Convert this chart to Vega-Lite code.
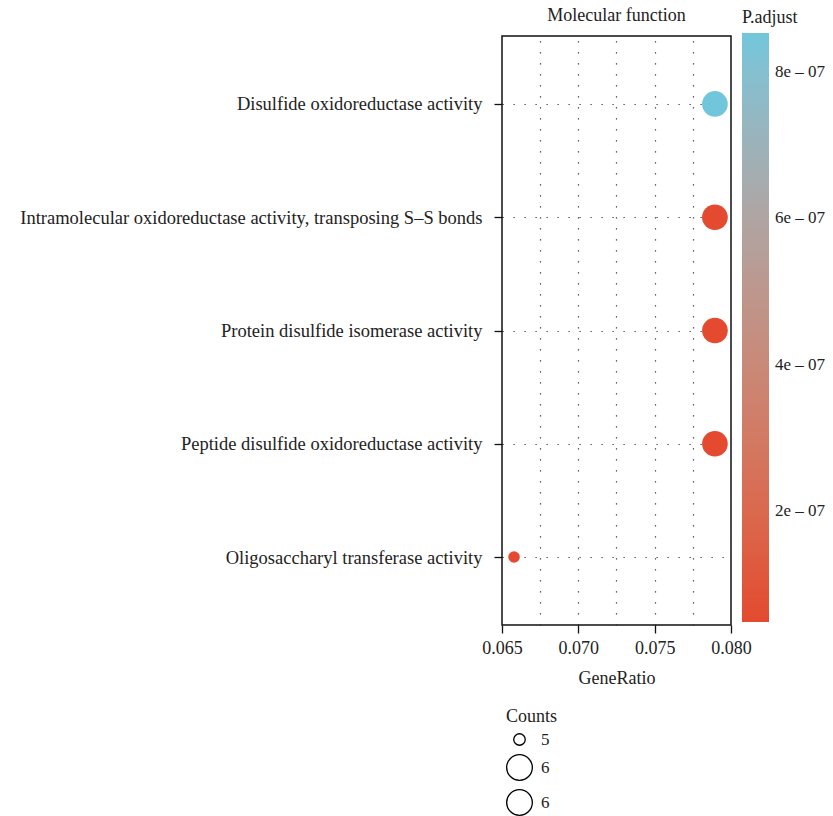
{
  "$schema": "https://vega.github.io/schema/vega-lite/v6.json",
  "width": 229,
  "height": 589,
  "padding": {"left": 19, "top": 7, "right": 5, "bottom": 5},
  "background": "white",
  "title": {"text": "Molecular function", "font": "Liberation Serif", "fontSize": 18, "fontWeight": "normal", "color": "#222", "offset": -16, "anchor": "middle"},
  "data": {"values": [
    {"term": "Disulfide oxidoreductase activity", "GeneRatio": 0.078947, "Counts": 6, "padj": 8.53e-7},
    {"term": "Intramolecular oxidoreductase activity, transposing S–S bonds", "GeneRatio": 0.078947, "Counts": 6, "padj": 4.9e-8},
    {"term": "Protein disulfide isomerase activity", "GeneRatio": 0.078947, "Counts": 6, "padj": 4.9e-8},
    {"term": "Peptide disulfide oxidoreductase activity", "GeneRatio": 0.078947, "Counts": 6, "padj": 4.9e-8},
    {"term": "Oligosaccharyl transferase activity", "GeneRatio": 0.065789, "Counts": 5, "padj": 5.0e-8}
  ]},
  "mark": {"type": "circle", "opacity": 1},
  "encoding": {
    "x": {"field": "GeneRatio", "type": "quantitative",
      "scale": {"domain": [0.065, 0.08], "nice": false, "zero": false},
      "axis": {"title": "GeneRatio", "values": [0.065, 0.0675, 0.07, 0.0725, 0.075, 0.0775, 0.08],
        "labelPadding": 6, "titlePadding": 12, "labelFlush": false,
        "labelExpr": "abs(datum.value*1000 - round(datum.value*200)*5) < 0.01 ? format(datum.value, '.3f') : ''",
        "tickOpacity": {"condition": {"test": "abs(datum.value*1000 - round(datum.value*200)*5) < 0.01", "value": 1}, "value": 0},
        "gridOpacity": {"condition": {"test": "datum.value < 0.066 || datum.value > 0.0795", "value": 0}, "value": 1}
      }},
    "y": {"field": "term", "type": "nominal", "sort": null,
      "scale": {"type": "point", "padding": 0.6},
      "axis": {"title": null, "labelLimit": 0, "labelPadding": 12, "labelFontSize": 18.5}},
    "size": {"field": "Counts", "type": "quantitative",
      "scale": {"domain": [5, 6], "range": [133, 660], "zero": false},
      "legend": {"title": "Counts", "orient": "none", "legendX": 4, "legendY": 672, "values": [5, 6, 6],
        "format": "d", "symbolFillColor": "white", "symbolStrokeColor": "black", "symbolStrokeWidth": 1.3,
        "symbolOpacity": 1, "rowPadding": 4, "labelOffset": 8}},
    "color": {"field": "padj", "type": "quantitative",
      "scale": {"range": ["#E34A2F", "#72C6DC"], "interpolate": "lab", "nice": false, "zero": false},
      "legend": {"title": "P.adjust", "orient": "none", "legendX": 240, "legendY": -27, "gradientLength": 589, "gradientThickness": 27,
        "values": [2e-7, 4e-7, 6e-7, 8e-7],
        "labelExpr": "format(datum.value*1e7, 'd') + 'e – 07'", "gradientStrokeWidth": 0, "titlePadding": 6, "labelOffset": 6}}
  },
  "config": {
    "font": "Liberation Serif",
    "view": {"stroke": "#111", "strokeWidth": 1.5},
    "axis": {"domain": false, "labelFont": "Liberation Serif", "labelFontSize": 18, "labelColor": "#222",
      "titleFont": "Liberation Serif", "titleFontSize": 18, "titleFontWeight": "normal", "titleColor": "#222",
      "tickColor": "#111", "tickSize": 8, "tickWidth": 1.3, "labelPadding": 4, "titlePadding": 10,
      "grid": true, "gridColor": "#333", "gridDash": [1.2, 9.8], "gridWidth": 1.2},
    "legend": {"labelFont": "Liberation Serif", "labelFontSize": 17, "labelColor": "#222",
      "titleFont": "Liberation Serif", "titleFontSize": 18, "titleFontWeight": "normal", "titleColor": "#222"}
  }
}
